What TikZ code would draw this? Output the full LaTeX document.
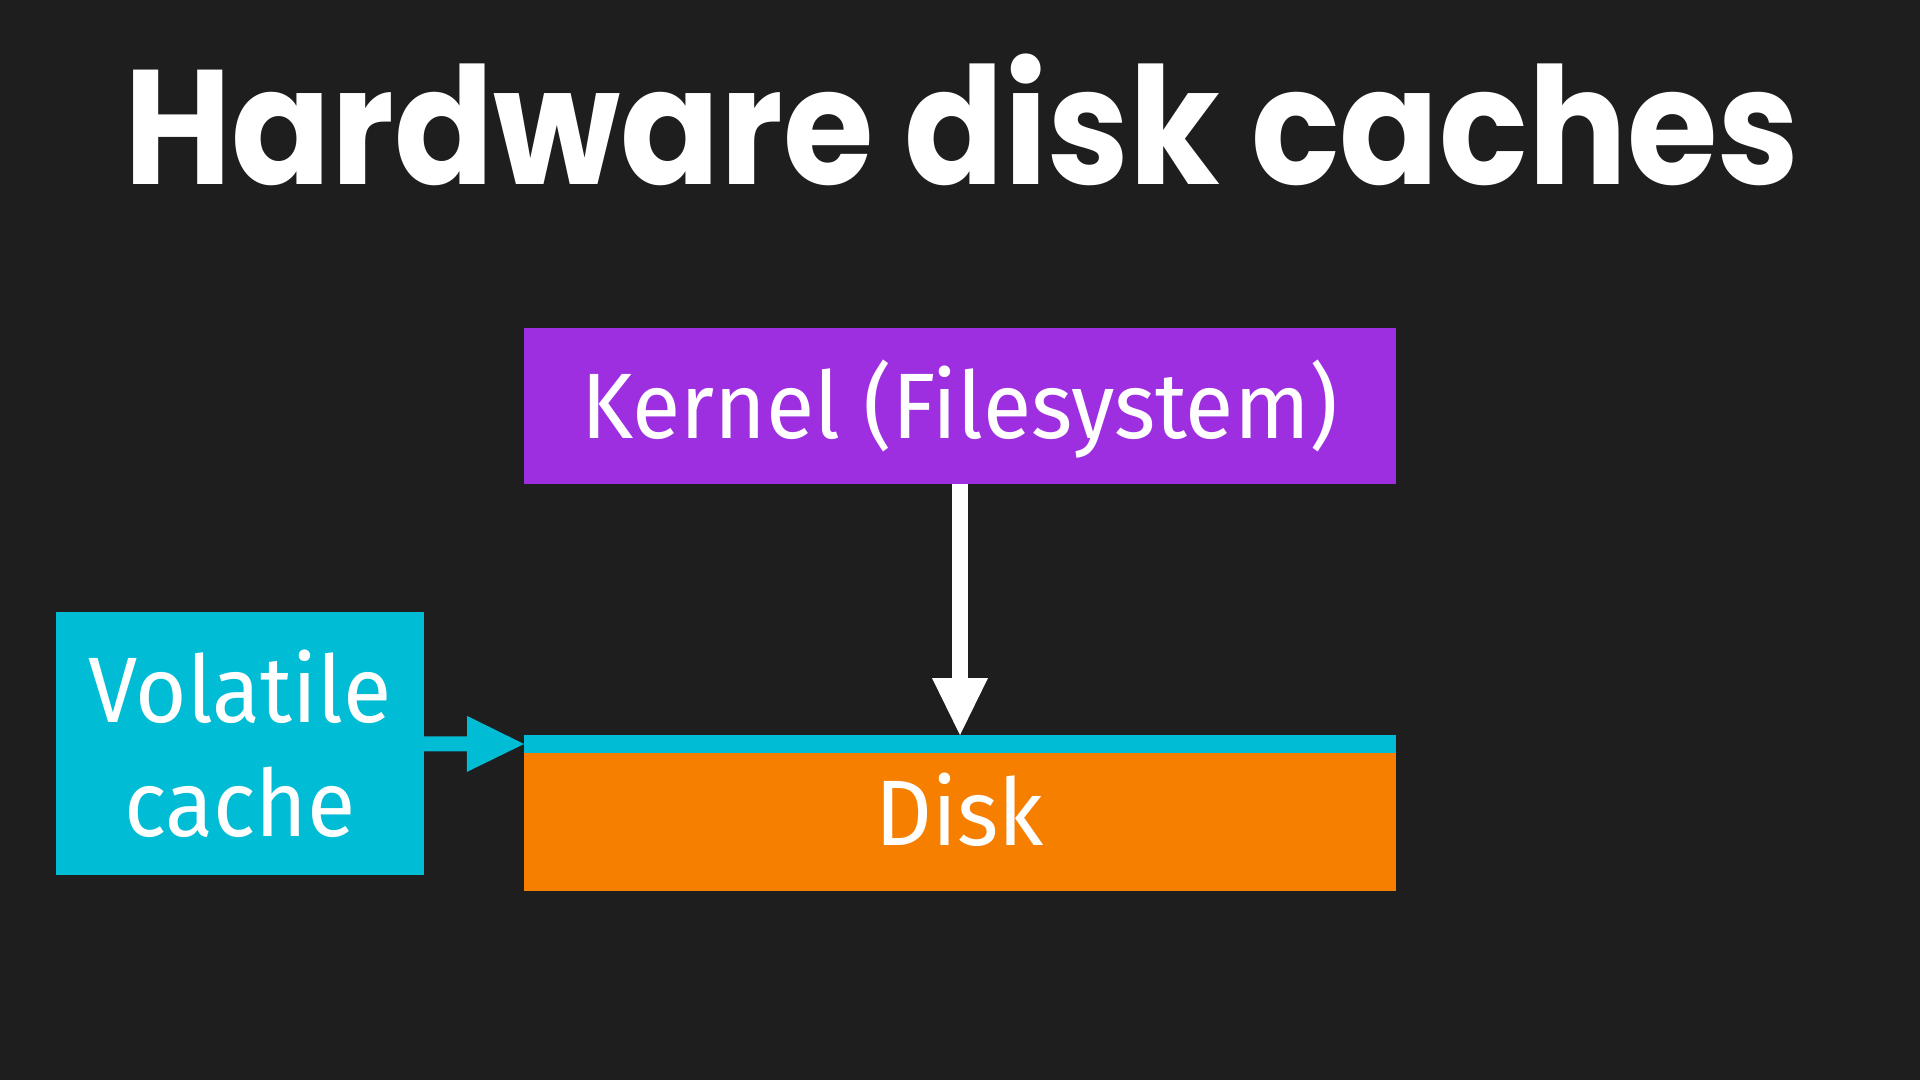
\documentclass[tikz,border=0pt]{standalone}
\usepackage{fontspec}
\setmainfont{Fira Sans}[FakeStretch=0.95]
\newfontfamily\titlefont{Poppins}[FakeStretch=0.9]
\usetikzlibrary{arrows.meta}

\definecolor{bgdark}{HTML}{1E1E1E}
\definecolor{kernelpurple}{HTML}{9E2FE0}
\definecolor{cachecyan}{HTML}{00BCD4}
\definecolor{diskorange}{HTML}{F77F00}

\begin{document}
\begin{tikzpicture}[x=1pt, y=-1pt, >={Triangle[length=57pt, width=56pt, line width=0pt]},
  every node/.style={rectangle, inner sep=0pt, outer sep=0pt, text=white, align=center,
    font=\fontsize{93}{114}\selectfont},
  onebox/.style={text height=64pt, text depth=0pt}]
\fill[bgdark] (0,0) rectangle (1920,1080);
\useasboundingbox (0,0) rectangle (1920,1080);

\node[anchor=base, font=\titlefont\bfseries\fontsize{163}{163}\selectfont] (title) at (962,184) {Hardware disk caches};

\node[onebox, fill=kernelpurple, minimum width=872pt, minimum height=156pt] (kernel) at (960,406) {Kernel (Filesystem)};
\node[onebox, fill=diskorange, minimum width=872pt, minimum height=156pt] (disk) at (960,813) {Disk};
\node[fill=cachecyan, minimum width=872pt, minimum height=18pt] (strip) at (960,744) {};
\node[fill=cachecyan, minimum width=368pt, minimum height=263pt] (volatile) at (240,743.5) {Volatile\\cache};

\draw[->, white, line width=16pt] (kernel) -- (strip.north);
\draw[->, cachecyan, line width=15pt] (volatile) -- (strip.west);
\end{tikzpicture}
\end{document}
